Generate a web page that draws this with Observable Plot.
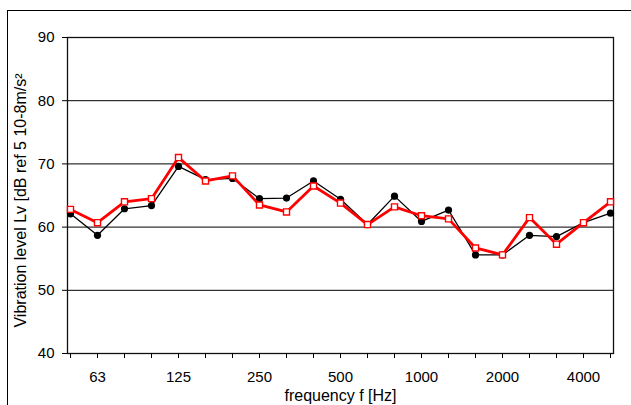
<!DOCTYPE html>
<html>
<head>
<meta charset="utf-8">
<script src="https://cdn.jsdelivr.net/npm/d3@7"></script>
<script src="https://cdn.jsdelivr.net/npm/@observablehq/plot@0.6"></script>
<style>
  html, body { margin: 0; padding: 0; background: #fff; }
  #wrap { position: relative; width: 631px; height: 405px; overflow: hidden; }
  #outer { position: absolute; left: 7px; top: 10px; width: 700px; height: 500px; border-left: 1px solid #000; border-top: 1px solid #000; pointer-events: none; }
</style>
</head>
<body>
<div id="wrap"><div id="chart"></div><div id="outer"></div></div>
<script>
const freqs = ["50","63","80","100","125","160","200","250","315","400","500","630","800","1000","1250","1600","2000","2500","3150","4000","5000"];
const seriesBlack = [62.1,58.7,62.9,63.4,69.6,67.5,67.7,64.5,64.6,67.3,64.4,60.4,64.9,60.9,62.7,55.6,55.6,58.7,58.5,60.7,62.2];
const seriesRed   = [62.8,60.7,64.0,64.5,71.0,67.3,68.1,63.5,62.4,66.5,63.8,60.4,63.2,61.8,61.3,56.7,55.6,61.5,57.3,60.7,64.0];
const labeledTicks = ["63","125","250","500","1000","2000","4000"];
const yTicks = [40,50,60,70,80,90];
const yGrid = [50,60,70,80];
const xLabel = "frequency f [Hz]";
const yLabel = "Vibration level Lv [dB ref 5 10-8m/s²";

const rows = freqs.map((f, i) => ({f, black: seriesBlack[i], red: seriesRed[i]}));

const plot = Plot.plot({
  width: 631,
  height: 405,
  marginLeft: 67,
  marginRight: 18,
  marginTop: 37,
  marginBottom: 52,
  style: {fontFamily: "'Liberation Sans', Arial, sans-serif", fontSize: "15px", background: "transparent", color: "#000", overflow: "visible"},
  x: {type: "point", domain: freqs, padding: 0, label: null},
  y: {domain: [40, 90], label: null},
  marks: [
    Plot.ruleY(yGrid, {stroke: "#000", strokeWidth: 1}),
    Plot.frame({stroke: "#111", strokeWidth: 1.3}),
    Plot.axisY(yTicks, {tickSize: 5, tickPadding: 8, stroke: "#000", label: null, fontSize: 15}),
    Plot.axisX(freqs, {tickSize: 5, tickPadding: 13, stroke: "#000", tickFormat: d => labeledTicks.includes(d) ? d : "", label: null, fontSize: 15}),
    Plot.text([yLabel], {frameAnchor: "left", textAnchor: "middle", lineAnchor: "middle", rotate: -90, dx: -47, dy: 5, fontSize: 16, fill: "#000"}),
    Plot.text([xLabel], {frameAnchor: "bottom", textAnchor: "middle", lineAnchor: "middle", dy: 42, fontSize: 16, fill: "#000"}),
    Plot.line(rows, {x: "f", y: "black", stroke: "#000", strokeWidth: 1.3}),
    Plot.dot(rows, {x: "f", y: "black", r: 3.6, fill: "#000", stroke: "none"}),
    Plot.line(rows, {x: "f", y: "red", stroke: "#ff0000", strokeWidth: 2.8}),
    Plot.dot(rows, {x: "f", y: "red", symbol: "square", r: 3.4, fill: "#fff", stroke: "#ff0000", strokeWidth: 1.4})
  ]
});
document.getElementById("chart").appendChild(plot);
</script>
</body>
</html>
